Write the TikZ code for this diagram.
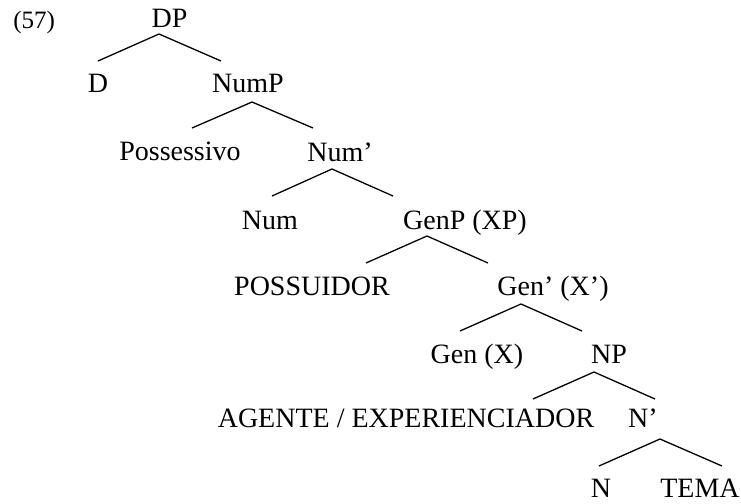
\documentclass[tikz,border=0pt]{standalone}
\usepackage{fontspec}
\setmainfont{Liberation Serif}
\begin{document}
\begin{tikzpicture}[x=0.5pt,y=-0.5pt,
  lbl/.style={anchor=base,inner sep=0pt,font=\fontsize{14}{16}\selectfont},
  exnum/.style={anchor=base west,inner sep=0pt,font=\fontsize{12.5}{15}\selectfont},
  branch/.style={line width=0.65pt,line join=miter}]
\useasboundingbox (0,0) rectangle (741,504);

% example number
\node[exnum] (ex) at (13,28) {(57)};

% category labels (placed on their baselines)
\node[lbl] (dp)    at (169.5,27) {DP};
\node[lbl] (d)     at (98,92)    {D};
\node[lbl] (nump)  at (248,92)   {NumP};
\node[lbl] (poss)  at (180,160)  {Possessivo};
\node[lbl] (numb)  at (340,161)  {Num’};
\node[lbl] (num)   at (270,229)  {Num};
\node[lbl] (genp)  at (465,229)  {GenP (XP)};
\node[lbl] (posr)  at (312,295)  {POSSUIDOR};
\node[lbl] (genb)  at (553,295)  {Gen’ (X’)};
\node[lbl] (gen)   at (477,363)  {Gen (X)};
\node[lbl] (np)    at (609,363)  {NP};
\node[lbl] (agt)   at (406,427)  {AGENTE / EXPERIENCIADOR};
\node[lbl] (nb)    at (643,427)  {N’};
\node[lbl] (n)     at (601,497)  {N};
\node[lbl] (tema)  at (700,497)  {TEMA};

% branch points: apex under each mother, ends above each daughter
\coordinate (dp-a)   at (159,34);  \coordinate (dp-l)   at (98,61);   \coordinate (dp-r)   at (221,61);
\coordinate (nump-a) at (252,102); \coordinate (nump-l) at (192,128); \coordinate (nump-r) at (313,128);
\coordinate (numb-a) at (332,169); \coordinate (numb-l) at (272,196); \coordinate (numb-r) at (393,196);
\coordinate (genp-a) at (427,236); \coordinate (genp-l) at (366,263); \coordinate (genp-r) at (488,263);
\coordinate (genb-a) at (521,304); \coordinate (genb-l) at (460,331); \coordinate (genb-r) at (582,331);
\coordinate (np-a)   at (594,372); \coordinate (np-l)   at (533,399); \coordinate (np-r)   at (655,399);
\coordinate (nb-a)   at (660,439); \coordinate (nb-l)   at (599,466); \coordinate (nb-r)   at (722,466);

\draw[branch] (dp-l) -- (dp-a) -- (dp-r);
\draw[branch] (nump-l) -- (nump-a) -- (nump-r);
\draw[branch] (numb-l) -- (numb-a) -- (numb-r);
\draw[branch] (genp-l) -- (genp-a) -- (genp-r);
\draw[branch] (genb-l) -- (genb-a) -- (genb-r);
\draw[branch] (np-l) -- (np-a) -- (np-r);
\draw[branch] (nb-l) -- (nb-a) -- (nb-r);
\end{tikzpicture}
\end{document}
